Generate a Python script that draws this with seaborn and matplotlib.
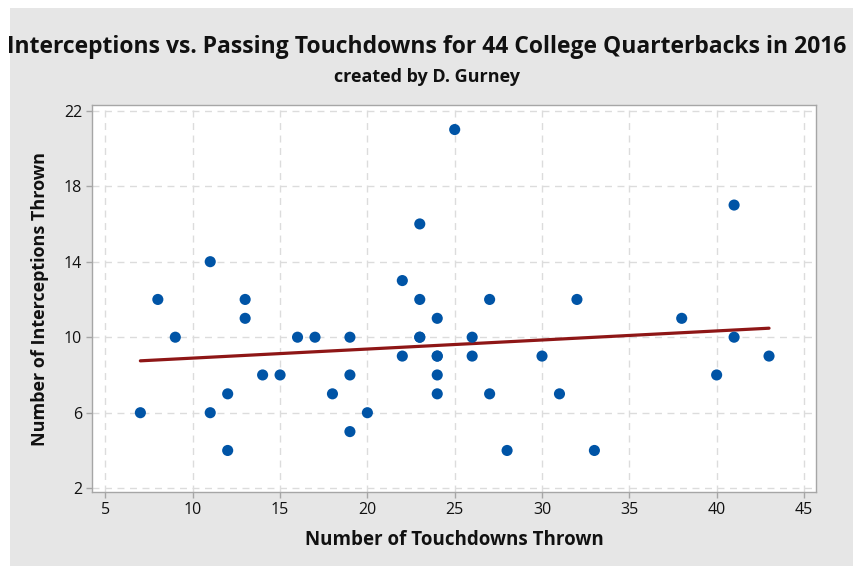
import matplotlib
matplotlib.use("Agg")
import matplotlib.pyplot as plt
import seaborn as sns
import pandas as pd
from matplotlib.patches import Rectangle

# touchdowns / interceptions (44 QBs, some overlap)
touchdowns = [7, 8, 9, 11, 11, 12, 12, 13, 13, 14, 15, 16, 17, 18, 19, 19, 19, 20,
              22, 22, 23, 23, 23, 23, 24, 24, 24, 24, 24, 25, 26, 26, 27, 27, 28,
              30, 31, 32, 33, 38, 40, 41, 41, 43]
interceptions = [6, 12, 10, 14, 6, 7, 4, 12, 11, 8, 8, 10, 10, 7, 10, 8, 5, 6,
                 13, 9, 16, 12, 10, 10, 11, 9, 9, 8, 7, 21, 10, 9, 12, 7, 4,
                 9, 7, 12, 4, 11, 8, 17, 10, 9]
x_ticks = [5, 10, 15, 20, 25, 30, 35, 40, 45]
y_ticks = [2, 6, 10, 14, 18, 22]

df = pd.DataFrame({"td": touchdowns, "int": interceptions})

sns.set_style("white")
plt.rcParams["font.family"] = ["Open Sans", "DejaVu Sans"]

fig = plt.figure(figsize=(8.54, 5.66), dpi=100)
fig.patch.set_facecolor("white")
# grey panel behind everything
fig.patches.append(Rectangle((10 / 854, 0), 1, 1 - 8 / 566, transform=fig.transFigure,
                             facecolor="#e6e6e6", edgecolor="none", zorder=-1))

ax = fig.add_axes([92 / 854, 1 - 492 / 566, (816 - 92) / 854, (492 - 105) / 566])
ax.set_facecolor("white")

sns.regplot(data=df, x="td", y="int", ax=ax, ci=None,
            scatter_kws={"s": 64, "color": "#0054a6", "edgecolor": "none", "alpha": 1, "zorder": 3},
            line_kws={"color": "#8e1616", "lw": 2.3, "zorder": 2})

ax.set_xlim(4.23, 45.69)
ax.set_ylim(1.80, 22.30)
ax.set_xticks(x_ticks)
ax.set_yticks(y_ticks)
ax.grid(True, ls=(0, (5, 4)), color="#dcdcdc", lw=1.0)
ax.set_axisbelow(True)
for s in ax.spines.values():
    s.set_color("#a6a6a6")
    s.set_linewidth(1.0)
ax.tick_params(direction="out", length=4, width=1, color="#a6a6a6",
               labelsize=11.5, labelcolor="#111111", pad=3)
ax.tick_params(axis="x", bottom=True)
ax.tick_params(axis="y", left=True)

ax.set_xlabel("Number of Touchdowns Thrown", fontsize=13.5, fontweight="bold",
              color="#111111", labelpad=9)
ax.set_ylabel("Number of Interceptions Thrown", fontsize=13, fontweight="bold",
              color="#111111", labelpad=11)

fig.text(0.5, 1 - 47 / 566, "Interceptions vs. Passing Touchdowns for 44 College Quarterbacks in 2016",
         ha="center", va="center", fontsize=16.5, fontweight="bold", color="#111111")
fig.text(0.5, 1 - 77 / 566, "created by D. Gurney", ha="center", va="center",
         fontsize=13, fontweight="bold", color="#111111")

fig.savefig("out.png", dpi=100)
